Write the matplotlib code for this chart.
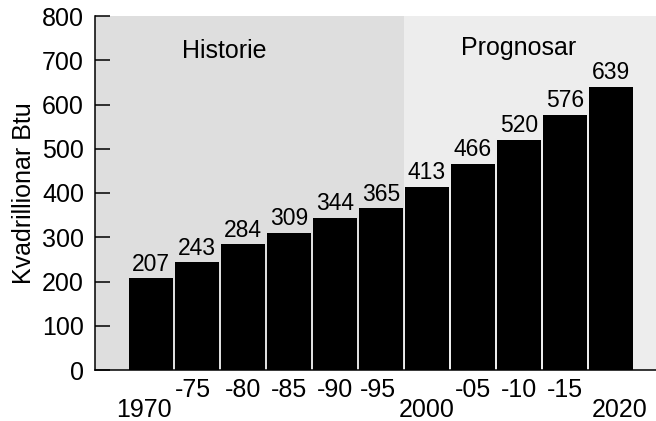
import matplotlib.pyplot as plt
import numpy as np

plt.rcParams['font.family'] = ['Liberation Sans', 'DejaVu Sans']

years = ['1970', '-75', '-80', '-85', '-90', '-95',
         '2000', '-05', '-10', '-15', '2020']
energy = [207, 243, 284, 309, 344, 365, 413, 466, 520, 576, 639]
n_history = 6
period_labels = ['Historie', 'Prognosar']

x = np.arange(len(years))

fig = plt.figure(figsize=(6.56, 4.21), dpi=100, facecolor='white')
ax = fig.add_axes([95 / 656, 51 / 421, 561 / 656, 354 / 421])

ax.set_xlim(-1.217, 10.977)
ax.set_ylim(0, 800)

# shaded backgrounds for the historic and forecast periods
split = n_history - 0.5
ax.axvspan(-1.217, split, color='#dedede', lw=0, zorder=0)
ax.axvspan(split, 10.977, color='#ededed', lw=0, zorder=0)

bars = ax.bar(x, energy, width=0.95, color='black', zorder=2)
for xi, v in zip(x, energy):
    ax.annotate(str(v), (xi, v), xytext=(0, 2), textcoords='offset points',
                ha='center', va='bottom', fontsize=16.5)

ax.text(1.6, 721, period_labels[0], ha='center', va='center', fontsize=18)
ax.text(8.0, 728, period_labels[1], ha='center', va='center', fontsize=18)

# staggered year labels below the bars
low = {0, 6, 10}
shift = {0: -7, 1: -4, 5: -3, 10: 9}
for i, lab in enumerate(years):
    dy = -20 if i in low else -6
    ax.annotate(lab, (x[i], 0), xycoords=('data', 'axes fraction'),
                xytext=(shift.get(i, 0) * 0.72, dy), textcoords='offset points',
                ha='center', va='top', fontsize=18)

ax.set_xticks([])
ax.set_yticks(range(0, 801, 100))
ax.tick_params(axis='y', direction='in', length=11, width=1.1,
               labelsize=18, pad=8)
ax.set_ylabel('Kvadrillionar Btu', fontsize=18, labelpad=4)

for side in ['top', 'right']:
    ax.spines[side].set_visible(False)
for side in ['left', 'bottom']:
    ax.spines[side].set_linewidth(1.1)

fig.savefig('out.png', dpi=100)
